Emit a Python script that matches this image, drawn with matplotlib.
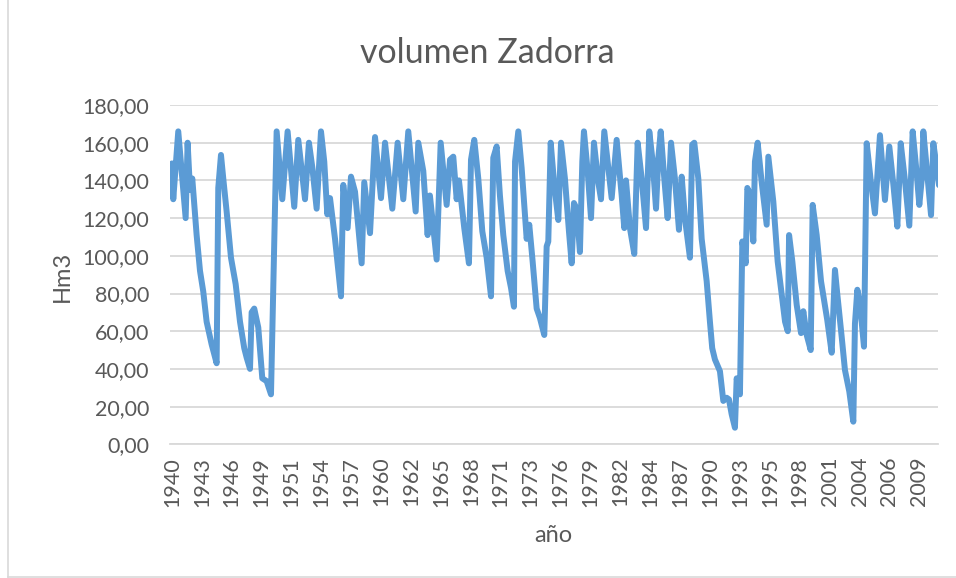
import matplotlib
matplotlib.use("Agg")
import matplotlib.pyplot as plt
from matplotlib.lines import Line2D

# ---- data (decimal year, volume in Hm3) ----
anios = [1940.75, 1940.87, 1941.33, 1942.01, 1942.19, 1942.41, 1942.62, 1943.02, 1943.33, 1943.63,
         1943.94, 1944.40, 1944.86, 1945.01, 1945.26, 1945.47, 1945.78, 1946.18, 1946.61, 1947.01,
         1947.40, 1947.62, 1947.93, 1948.08, 1948.32, 1948.69, 1949.06, 1949.46, 1949.86, 1950.38,
         1950.90, 1951.39, 1952.00, 1952.37, 1952.99, 1953.35, 1953.66, 1954.06, 1954.46, 1954.76,
         1955.04, 1955.29, 1955.75, 1956.30, 1956.51, 1956.91, 1957.22, 1957.59, 1958.20, 1958.44,
         1958.97, 1959.43, 1959.98, 1960.35, 1961.02, 1961.51, 1962.03, 1962.49, 1963.17, 1963.41,
         1963.87, 1964.27, 1964.48, 1965.10, 1965.47, 1966.02, 1966.33, 1966.63, 1966.94, 1967.15,
         1967.64, 1968.07, 1968.26, 1968.56, 1968.93, 1969.30, 1969.70, 1970.10, 1970.31, 1970.62,
         1970.92, 1971.23, 1971.63, 1971.94, 1972.21, 1972.31, 1972.61, 1972.92, 1973.29, 1973.38,
         1973.62, 1973.93, 1974.30, 1974.60, 1975.00, 1975.22, 1975.37, 1975.59, 1975.92, 1976.29,
         1976.54, 1976.90, 1977.27, 1977.52, 1977.73, 1977.98, 1978.28, 1978.50, 1978.65, 1978.99,
         1979.30, 1979.57, 1979.97, 1980.22, 1980.52, 1981.20, 1981.66, 1982.12, 1982.36, 1982.52,
         1982.88, 1983.28, 1983.59, 1983.96, 1984.36, 1984.66, 1984.97, 1985.28, 1985.49, 1985.71,
         1986.04, 1986.35, 1986.66, 1987.02, 1987.39, 1987.64, 1987.94, 1988.40, 1988.61, 1988.80,
         1989.17, 1989.48, 1989.94, 1990.24, 1990.45, 1990.70, 1991.16, 1991.47, 1991.78, 1991.99,
         1992.24, 1992.54, 1992.70, 1993.00, 1993.22, 1993.53, 1993.68, 1993.92, 1994.23, 1994.38,
         1994.63, 1995.00, 1995.46, 1995.61, 1996.07, 1996.47, 1996.84, 1997.15, 1997.40, 1997.52,
         1997.82, 1998.22, 1998.62, 1998.83, 1999.14, 1999.51, 1999.69, 2000.06, 2000.46, 2001.03,
         2001.44, 2001.74, 2001.95, 2002.36, 2002.66, 2003.06, 2003.43, 2003.58, 2003.80, 2004.04,
         2004.41, 2004.66, 2005.03, 2005.42, 2005.88, 2006.34, 2006.74, 2007.11, 2007.48, 2007.79,
         2008.18, 2008.58, 2008.80, 2008.89, 2009.26, 2009.50, 2009.75, 2009.87, 2010.23, 2010.58,
         2010.79, 2011.10, 2011.31]

volumen = [149, 130, 166, 120, 160, 135, 141, 111, 92, 81,
           65, 53, 43, 136, 153.5, 141, 123.5, 99, 85, 65,
           51, 46, 40, 70, 72, 62, 35, 33.5, 26.5, 166,
           130, 166, 126, 161.5, 130, 160, 147, 125, 166, 150,
           122, 130.6, 109, 78.5, 137.6, 114.7, 142, 134, 96, 139,
           112, 163, 130.6, 160, 125, 160, 130, 166, 123.5, 160,
           145, 111, 132, 98, 160, 127, 151, 152.6, 130, 140,
           114.7, 96, 151, 161.5, 141, 113, 99, 78.5, 152, 158,
           132, 111, 92, 83, 73, 150, 166, 146.5, 116.5, 109,
           116.5, 97, 72, 67, 58, 105, 107.6, 160, 137.6, 119,
           160, 141, 113, 96, 128, 125, 102, 150, 166, 145,
           120, 160, 139, 130, 166, 130.6, 161.5, 132, 114.7, 140,
           114.7, 101, 160, 141, 114.7, 166, 150, 125, 151.8, 166,
           141, 120, 160, 141, 113.8, 142, 120, 99, 159, 160,
           141, 109, 86.5, 65, 51, 45, 38.8, 23, 24.7, 23.8,
           15.9, 8.8, 35, 26.5, 107.6, 96, 136, 133, 107.6, 150,
           160, 139, 116.5, 152.6, 128.8, 97, 79.4, 65, 60, 111,
           97, 74, 59, 70.6, 58, 50, 127, 111, 86.5, 66,
           48.6, 92.5, 80, 57, 39.4, 28, 12, 64, 82, 74.8,
           51.8, 159.7, 140, 122.5, 164, 129.6, 158, 138, 115.5, 159.7,
           140, 116, 152.6, 166, 143.7, 127, 142, 166, 143.7, 121.6,
           159.7, 147, 137.5]

etiquetas_x = ["1940", "1943", "1946", "1949", "1951", "1954", "1957", "1960", "1962",
               "1965", "1968", "1971", "1973", "1976", "1979", "1982", "1984", "1987",
               "1990", "1993", "1995", "1998", "2001", "2004", "2006", "2009"]
valores_y = [0, 20, 40, 60, 80, 100, 120, 140, 160, 180]

# ---- style ----
FONT = ["Lato", "DejaVu Sans"]
plt.rcParams["font.family"] = FONT
gris_texto = "#595959"
gris_linea = "#D9D9D9"
azul = "#5B9BD5"

fig = plt.figure(figsize=(9.56, 5.78), dpi=100)
ax = fig.add_axes([170 / 956, 1 - 444.3 / 578, (938 - 170) / 956, (444.3 - 105) / 578])

ax.plot(anios, volumen, color=azul, lw=4.3, solid_joinstyle="round", solid_capstyle="round",
        zorder=3)

ax.set_ylim(0, 180)
ax.set_xlim(1940.57, 2011.22)
ax.set_yticks(valores_y)
ax.set_yticklabels([f"{v:.2f}".replace(".", ",") for v in valores_y], color=gris_texto,
                   fontsize=15.5)
pos_x = [1940.75 + 2.75 * i for i in range(len(etiquetas_x))]
ax.set_xticks(pos_x)
ax.set_xticklabels(etiquetas_x, rotation=90, color=gris_texto, fontsize=15.5)
ax.tick_params(axis="both", length=0)
ax.tick_params(axis="y", pad=15)
ax.tick_params(axis="x", pad=9)

ax.grid(axis="y", color=gris_linea, lw=1.3, zorder=0)
for s in ["top", "right", "left"]:
    ax.spines[s].set_visible(False)
ax.spines["bottom"].set_color(gris_linea)
ax.spines["bottom"].set_linewidth(1.3)

fig.text(487 / 956, 1 - 53 / 578, "volumen Zadorra", ha="center", va="center",
         fontsize=24.5, color=gris_texto)
fig.text(62 / 956, 1 - 276 / 578, "Hm3", ha="center", va="center", rotation=90,
         fontsize=17, color=gris_texto)
fig.text(553 / 956, 1 - 535 / 578, "año", ha="center", va="center",
         fontsize=17, color=gris_texto)

# chart-area border
fig.add_artist(Line2D([8 / 956, 8 / 956], [1 / 578, 1.0], transform=fig.transFigure,
                      color=gris_linea, lw=1.2))
fig.add_artist(Line2D([8 / 956, 1.0], [1 / 578, 1 / 578], transform=fig.transFigure,
                      color=gris_linea, lw=1.2))

fig.savefig("out.png", dpi=100)
